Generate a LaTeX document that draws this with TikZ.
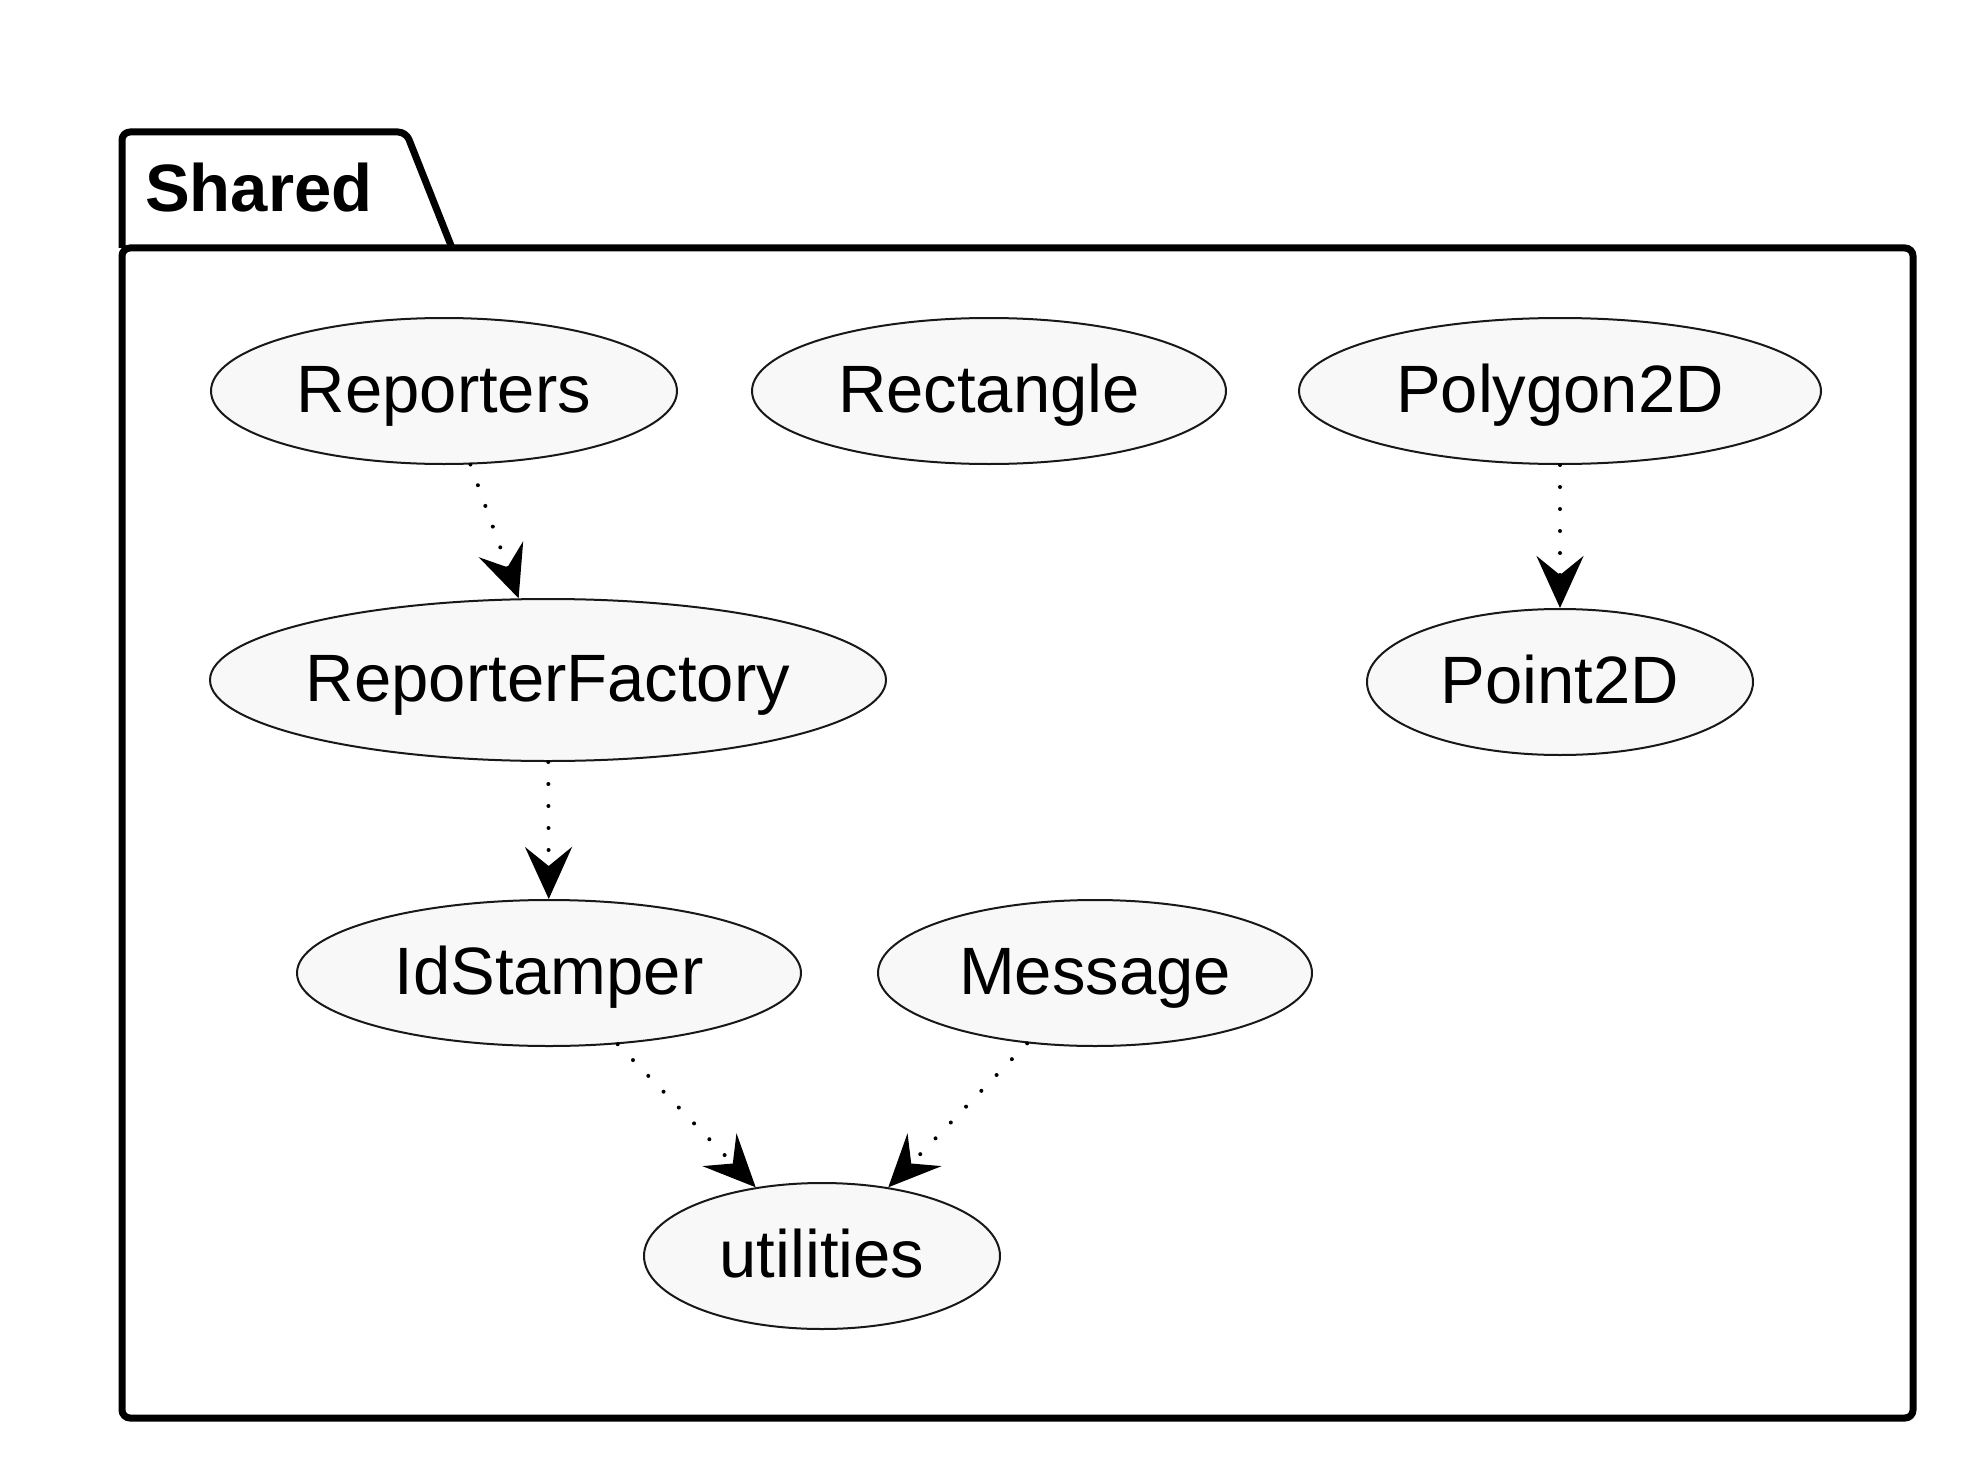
\documentclass[tikz,border=0pt]{standalone}
\usepackage{fontspec}
\setmainfont{Liberation Sans}
\usetikzlibrary{shapes.geometric,arrows.meta}
\definecolor{nodefill}{RGB}{248,248,248}
\definecolor{nodeline}{RGB}{24,24,24}
\tikzset{
  uc/.style={ellipse, draw=nodeline, fill=nodefill, line width=2pt, inner sep=0pt,
    font=\fontsize{67}{80}\selectfont, text height=56pt, text depth=14pt},
  dep/.style={line width=4pt, line cap=round, dash pattern=on 0pt off 22pt,
    -{Stealth[length=52pt,width=47pt,inset=19pt]}},
}
\newcommand{\uctext}[1]{\makebox[0pt][c]{#1}}
\begin{document}
\begin{tikzpicture}[x=1pt,y=-1pt]
\useasboundingbox (0,0) rectangle (1976,1482);
% package
\draw[line width=7pt, rounded corners=8pt, line join=round]
  (122,248) -- (122,132) -- (406,132) -- (452,248);
\draw[line width=7pt, rounded corners=8pt] (122,248) rectangle (1913,1418);
\node[anchor=base west, inner sep=0pt, font=\fontsize{67}{80}\selectfont\bfseries] (pkg) at (145,212) {Shared};
% nodes
\node[uc, minimum width=466pt, minimum height=146pt] (rep) at (444,391) {\uctext{Reporters}};
\node[uc, minimum width=474pt, minimum height=146pt] (rect) at (989,391) {\uctext{Rectangle}};
\node[uc, minimum width=522pt, minimum height=146pt] (poly) at (1560,391) {\uctext{Polygon2D}};
\node[uc, minimum width=676pt, minimum height=162pt] (rf) at (548,680) {\uctext{ReporterFactory}};
\node[uc, minimum width=386pt, minimum height=146pt] (pt) at (1560,682) {\uctext{Point2D}};
\node[uc, minimum width=504pt, minimum height=146pt] (ids) at (549,973) {\uctext{IdStamper}};
\node[uc, minimum width=434pt, minimum height=146pt] (msg) at (1095,973) {\uctext{Message}};
\node[uc, minimum width=356pt, minimum height=146pt] (util) at (822,1256) {\uctext{utilities}};
% connectors
\draw[dep] (rep) -- (rf);
\draw[dep] (rf) -- (ids);
\draw[dep] (poly) -- (pt);
\draw[dep] (ids) -- (util);
\draw[dep] (msg) -- (util);
\end{tikzpicture}
\end{document}
